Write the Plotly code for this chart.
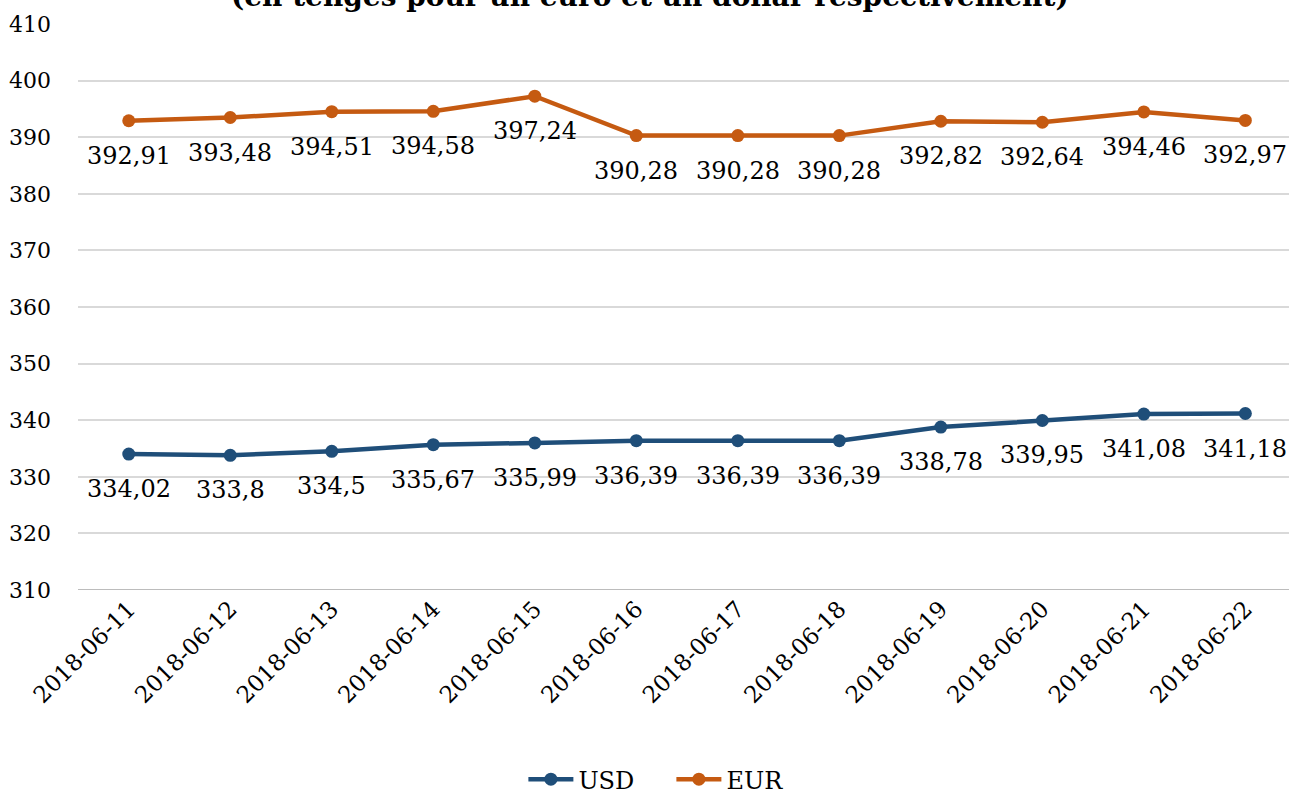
import plotly.graph_objects as go

dates = ["2018-06-11", "2018-06-12", "2018-06-13", "2018-06-14", "2018-06-15", "2018-06-16",
         "2018-06-17", "2018-06-18", "2018-06-19", "2018-06-20", "2018-06-21", "2018-06-22"]
usd = [334.02, 333.8, 334.5, 335.67, 335.99, 336.39, 336.39, 336.39, 338.78, 339.95, 341.08, 341.18]
eur = [392.91, 393.48, 394.51, 394.58, 397.24, 390.28, 390.28, 390.28, 392.82, 392.64, 394.46, 392.97]
y_ticks = [310, 320, 330, 340, 350, 360, 370, 380, 390, 400, 410]
title_text = "(en tenges pour un euro et un dollar respectivement)"

FONT = "Georgia, DejaVu Serif, serif"
C_USD = "#1F4E79"
C_EUR = "#C55A11"

def fmt(v):
    s = ("%.2f" % v).rstrip("0").rstrip(".")
    return s.replace(".", ",")

fig = go.Figure()
for name, vals, col in [("USD", usd, C_USD), ("EUR", eur, C_EUR)]:
    fig.add_trace(go.Scatter(
        x=dates, y=vals, name=name, mode="lines+markers",
        line=dict(color=col, width=4.5),
        marker=dict(color=col, size=13),
    ))
    for d, v in zip(dates, vals):
        fig.add_annotation(x=d, y=v, text=fmt(v), showarrow=False,
                           yshift=-35, font=dict(family=FONT, size=24, color="#000000"))

fig.add_annotation(xref="paper", yref="paper", x=0.472, y=1.048, yanchor="middle",
                   text="<b>" + title_text + "</b>", showarrow=False,
                   font=dict(family=FONT, size=28, color="#000000"))

fig.update_layout(
    width=1289, height=794,
    margin=dict(l=78, r=0, t=24, b=204, autoexpand=False),
    paper_bgcolor="white", plot_bgcolor="white",
    font=dict(family=FONT, size=21, color="#000000"),
    showlegend=True,
    legend=dict(orientation="h", x=0.49, xanchor="center", y=-0.335, yanchor="middle",
                font=dict(family=FONT, size=24), itemwidth=45,
                entrywidth=88, entrywidthmode="pixels"),
)
fig.update_xaxes(type="category", range=[-0.5, 11.43], tickangle=-45, automargin=False,
                 showgrid=False, showline=False, ticks="",
                 tickfont=dict(family=FONT, size=23))
fig.update_yaxes(range=[310, 410], tickvals=y_ticks, showgrid=True, gridcolor="#D9D9D9",
                 gridwidth=1.5, zeroline=False, showline=False, ticks="", automargin=False,
                 ticklabelstandoff=26, tickfont=dict(family=FONT, size=22))
fig.add_hline(y=310, line=dict(color="#A6A6A6", width=1.5))

fig.write_html("out.html", config={"displayModeBar": False},
               post_script="document.body.style.margin='0';")
